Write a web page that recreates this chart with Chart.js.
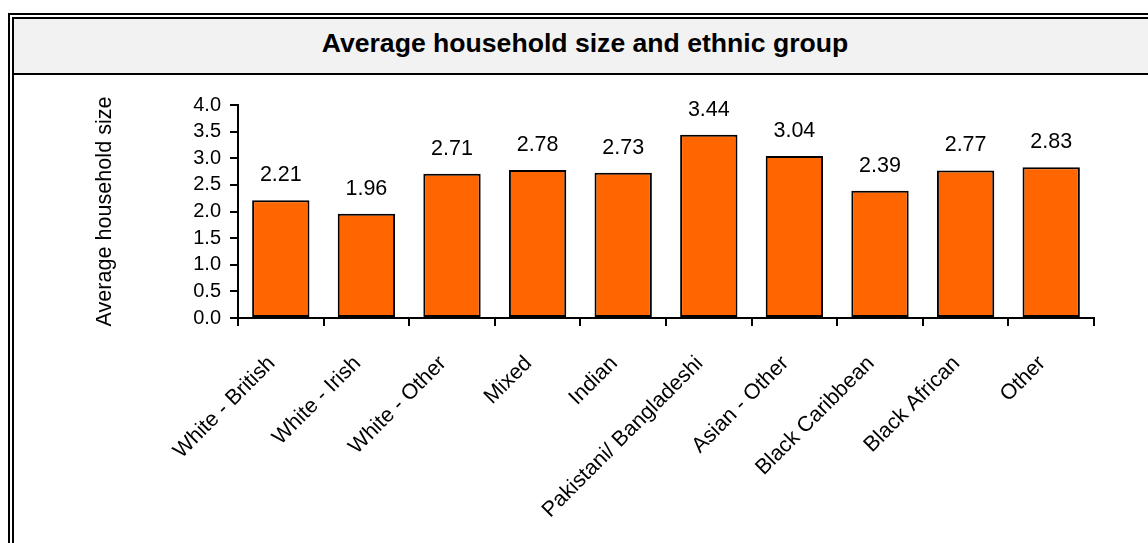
<!DOCTYPE html>
<html>
<head>
<meta charset="utf-8">
<script src="https://cdn.jsdelivr.net/npm/chart.js@4/dist/chart.umd.min.js"></script>
<style>
  html, body { margin: 0; padding: 0; background: #fff; }
  #wrap { position: relative; width: 1148px; height: 543px; overflow: hidden; font-family: "Liberation Sans", Arial, sans-serif; }
  .ln { position: absolute; background: #000; }
  #titlebox { position: absolute; left: 14px; top: 19px; right: 0; height: 54px; background: #f2f2f2; }
  #title { position: absolute; left: 14px; right: 0; top: 30px; padding-left: 8px; text-align: center;
           font: bold 26.6px/26px "Liberation Sans", Arial, sans-serif; color: #000; white-space: nowrap; }
  canvas { position: absolute; left: 0; top: 0; }
</style>
</head>
<body>
<div id="wrap">
  <div id="titlebox"></div>
  <div class="ln" style="left:8px;top:13px;width:2px;bottom:0"></div>
  <div class="ln" style="left:8px;top:13px;height:2px;right:0"></div>
  <div class="ln" style="left:12px;top:17px;width:2px;bottom:0"></div>
  <div class="ln" style="left:12px;top:17px;height:2px;right:0"></div>
  <div class="ln" style="left:12px;top:73px;height:2px;right:0"></div>
  <div id="title">Average household size and ethnic group</div>
  <canvas id="c" width="1148" height="543"></canvas>
</div>
<script>
const categories = ["White - British", "White - Irish", "White - Other", "Mixed", "Indian",
  "Pakistani/ Bangladeshi", "Asian - Other", "Black Caribbean", "Black African", "Other"];
const householdSize = [2.21, 1.96, 2.71, 2.78, 2.73, 3.44, 3.04, 2.39, 2.77, 2.83];
const yTicks = [0.0, 0.5, 1.0, 1.5, 2.0, 2.5, 3.0, 3.5, 4.0];
const yAxisTitle = "Average household size";

const FONT = '"Liberation Sans", Arial, sans-serif';

const valueLabels = {
  id: 'valueLabels',
  afterDatasetsDraw(chart) {
    const ctx = chart.ctx;
    const meta = chart.getDatasetMeta(0);
    ctx.save();
    ctx.font = '21.5px ' + FONT;
    ctx.fillStyle = '#000';
    ctx.textAlign = 'center';
    ctx.textBaseline = 'alphabetic';
    meta.data.forEach((bar, i) => {
      ctx.fillText(householdSize[i].toFixed(2), bar.x, bar.y - 19);
    });
    ctx.restore();
  }
};

new Chart(document.getElementById('c'), {
  type: 'bar',
  data: {
    labels: categories,
    datasets: [{
      data: householdSize,
      backgroundColor: '#ff6600',
      borderColor: '#000',
      borderWidth: 2,
      borderSkipped: false,
      categoryPercentage: 1.0,
      barPercentage: 0.67
    }]
  },
  options: {
    responsive: false,
    animation: false,
    devicePixelRatio: 1,
    layout: { padding: { left: 14, top: 105, right: 54, bottom: 0 } },
    plugins: { legend: { display: false }, tooltip: { enabled: false }, title: { display: false } },
    scales: {
      x: {
        offset: true,
        grid: { display: true, drawOnChartArea: false, drawTicks: true, tickLength: 8, color: '#000', lineWidth: 2, offset: true },
        border: { display: true, color: '#000', width: 2 },
        ticks: { color: '#000', font: { family: FONT, size: 21.5 }, minRotation: 45, maxRotation: 45, autoSkip: false, padding: 25, labelOffset: -9 },
        afterFit(scale) { scale.height = 543 - 318; }
      },
      y: {
        min: 0, max: 4,
        afterBuildTicks(scale) { scale.ticks = yTicks.map(v => ({ value: v })); },
        grid: { display: true, drawOnChartArea: false, drawTicks: true, tickLength: 8, color: '#000', lineWidth: 2 },
        border: { display: true, color: '#000', width: 2 },
        ticks: { color: '#000', font: { family: FONT, size: 20, lineHeight: 1 }, padding: 9, autoSkip: false, callback: v => Number(v).toFixed(1) },
        title: { display: true, text: yAxisTitle, color: '#000', font: { family: FONT, size: 21.6 }, padding: { top: 78, bottom: 0 } },
        afterFit(scale) { scale.width = 238 - 14; }
      }
    }
  },
  plugins: [valueLabels]
});
</script>
</body>
</html>
